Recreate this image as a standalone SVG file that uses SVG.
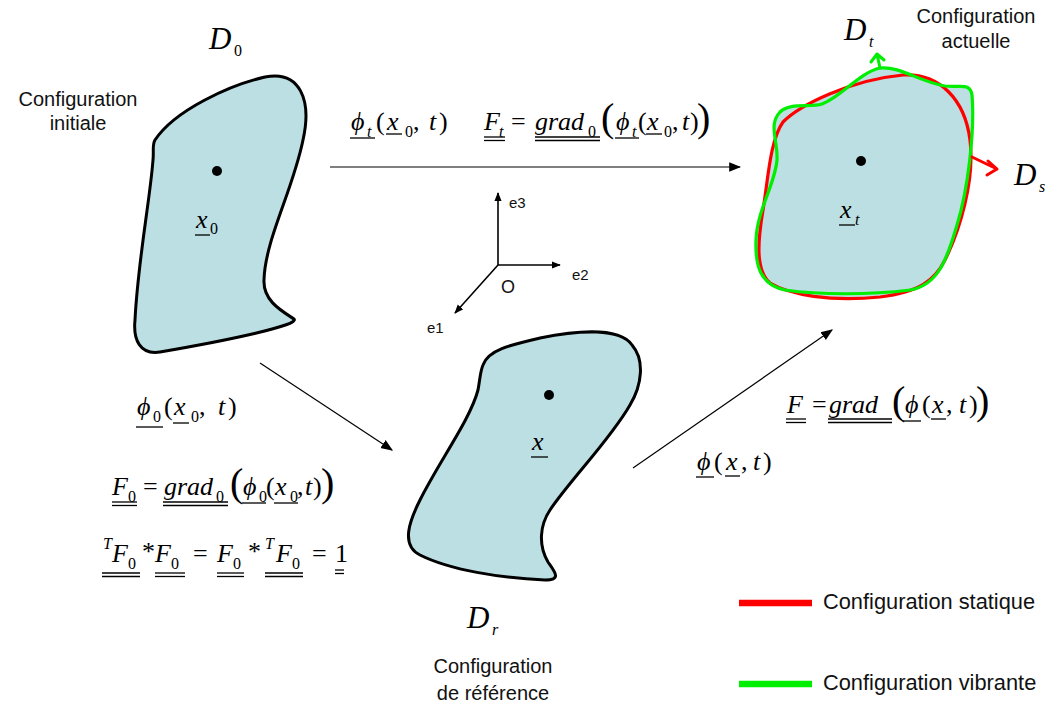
<svg xmlns="http://www.w3.org/2000/svg" width="1048" height="709" viewBox="0 0 1048 709">
<defs>
<style>
.m{font-family:"Liberation Serif","Times New Roman",serif;font-style:italic;font-size:26px;fill:#000}
.p{font-family:"Liberation Serif","DejaVu Serif",serif;font-style:italic;font-size:26px;fill:#000}
.u{font-style:normal}
.s{font-size:16px}
.big{font-family:"Liberation Serif",serif;font-style:normal;font-size:40px;fill:#000}
.D{font-family:"Liberation Serif",serif;font-style:italic;font-size:31px;fill:#000}
.lbl{font-family:"Liberation Sans",Arial,sans-serif;font-size:20px;fill:#111;text-anchor:middle}
.leg{font-family:"Liberation Sans",Arial,sans-serif;font-size:21.8px;fill:#111}
.ax{font-family:"Liberation Sans",Arial,sans-serif;font-size:15px;fill:#111}
.ul{stroke:#000;stroke-width:1.3;fill:none}
.body{fill:#bbdfe3;stroke:#000;stroke-width:3}
.con{stroke:#000;stroke-width:1.2;fill:none}
</style>
<marker id="ah" viewBox="0 0 10 10" refX="9" refY="5" markerWidth="9" markerHeight="9" markerUnits="userSpaceOnUse" orient="auto"><path d="M0,1 L10,5 L0,9 Z" fill="#000"/></marker>
<marker id="ah2" viewBox="0 0 10 10" refX="9" refY="5" markerWidth="12" markerHeight="12" markerUnits="userSpaceOnUse" orient="auto"><path d="M0,1 L10,5 L0,9 Z" fill="#000"/></marker>
</defs>
<rect width="1048" height="709" fill="#fff"/>

<g id="node-D0">
<path class="body" d="M155,140 C175,110 230,85 265,77 C300,70 312,100 303,140 C293,190 265,240 264,280 C263,300 280,310 294,319 C300,325 230,340 160,352 C140,355 133,340 135,320 C138,260 150,200 153,160 C154,150 152,145 155,140 Z"/>
<circle cx="217" cy="171" r="5" fill="#000"/>
<text class="m" x="196" y="228">x</text><text class="m u s" x="210" y="234">0</text>
<line class="ul" x1="195" y1="235" x2="210" y2="235"/>
<text class="D" x="209" y="49">D</text><text class="m u s" x="234" y="56">0</text>
<text class="lbl" x="78" y="106">Configuration</text>
<text class="lbl" x="78" y="130">initiale</text>
</g>

<g id="node-Dr">
<path class="body" d="M483,365 C488,350 510,345 540,338 C580,330 620,328 632,345 C645,360 642,385 630,405 C610,440 570,480 550,510 C540,525 538,545 548,562 C555,572 562,580 545,580 C500,578 450,570 420,555 C400,545 410,520 420,500 C440,460 470,420 478,390 C480,380 480,372 483,365 Z"/>
<circle cx="549" cy="395" r="5" fill="#000"/>
<text class="m" x="532" y="450">x</text>
<line class="ul" x1="531" y1="457" x2="548" y2="457"/>
<text class="D" x="467" y="628">D</text><text class="m s" x="492" y="635">r</text>
<text class="lbl" x="493" y="673">Configuration</text>
<text class="lbl" x="493" y="700">de référence</text>
</g>

<g id="node-Dt">
<path d="M880,68 C900,66 920,82 945,86 C960,88 970,82 972,95 C975,130 968,190 957,225 C948,255 940,285 910,290 C870,295 820,295 785,290 C760,285 755,265 756,240 C757,210 775,185 777,160 C778,140 768,125 780,112 C790,102 810,108 822,104 C840,98 860,72 880,68 Z" fill="#bbdfe3"/>
<path d="M903,75 C940,73 965,100 970,140 C975,180 960,230 945,260 C935,280 920,292 880,297 C830,302 790,295 770,283 C755,270 758,240 763,210 C768,180 770,140 783,122 C800,105 850,80 903,75 Z" fill="#bbdfe3" stroke="#ff0000" stroke-width="3.2"/>
<path d="M880,68 C900,66 920,82 945,86 C960,88 970,82 972,95 C975,130 968,190 957,225 C948,255 940,285 910,290 C870,295 820,295 785,290 C760,285 755,265 756,240 C757,210 775,185 777,160 C778,140 768,125 780,112 C790,102 810,108 822,104 C840,98 860,72 880,68 Z" fill="none" stroke="#00ee00" stroke-width="3.2"/>
<path d="M972,157 L997,169 M988,161 L997,169 L987,175" fill="none" stroke="#ff0000" stroke-width="3" stroke-linecap="round" stroke-linejoin="round"/>
<path d="M880,68 L877,54 M871,62 L877,54 L884,60" fill="none" stroke="#00ee00" stroke-width="3" stroke-linecap="round" stroke-linejoin="round"/>
<circle cx="861" cy="161" r="5" fill="#000"/>
<text class="m" x="840" y="218">x</text><text class="m s" x="855" y="225">t</text>
<line class="ul" x1="839" y1="225" x2="855" y2="225"/>
<text class="D" x="844" y="40">D</text><text class="m s" x="869" y="47">t</text>
<text class="D" x="1014" y="185">D</text><text class="m s" x="1039" y="192">s</text>
<text class="lbl" x="976" y="23">Configuration</text>
<text class="lbl" x="976" y="48">actuelle</text>
</g>

<g id="axes">
<line x1="498" y1="265" x2="498" y2="193" stroke="#000" stroke-width="1.6" marker-end="url(#ah)"/>
<line x1="498" y1="265" x2="560" y2="265" stroke="#000" stroke-width="1.6" marker-end="url(#ah)"/>
<line x1="498" y1="265" x2="455" y2="313" stroke="#000" stroke-width="1.6" marker-end="url(#ah)"/>
<text class="ax" x="509" y="208">e3</text>
<text class="ax" x="572" y="280">e2</text>
<text class="ax" x="427" y="333">e1</text>
<text class="ax" x="501" y="293" style="font-size:18px">O</text>
</g>

<g id="connectors">
<line class="con" x1="330" y1="167" x2="740" y2="167" marker-end="url(#ah2)"/>
<line class="con" x1="260" y1="363" x2="392" y2="450" marker-end="url(#ah2)"/>
<line class="con" x1="633" y1="468" x2="832" y2="330" marker-end="url(#ah2)"/>
</g>

<g id="formula-top">
<text class="p" x="351" y="130">ϕ</text><text class="m s" x="367" y="137">t</text>
<text class="m u" x="376" y="130">(</text><text class="m" x="387" y="130">x</text><text class="m u s" x="405" y="137">0</text>
<text class="m u" x="413" y="130">,</text><text class="m" x="429" y="130">t</text><text class="m u" x="439" y="130">)</text>
<line class="ul" x1="350" y1="138" x2="375" y2="138"/>
<line class="ul" x1="386" y1="134" x2="402" y2="134"/>

<text class="m" x="484" y="130">F</text><text class="m s" x="499" y="137">t</text>
<line class="ul" x1="484" y1="137" x2="505" y2="137"/><line class="ul" x1="484" y1="140.5" x2="505" y2="140.5"/>
<text class="m u" x="511" y="130">=</text>
<text class="m" x="535" y="130">grad</text><text class="m u s" x="588" y="137">0</text>
<line class="ul" x1="535" y1="137" x2="600" y2="137"/><line class="ul" x1="535" y1="140.5" x2="600" y2="140.5"/>
<text class="big" x="601" y="131">(</text>
<text class="p" x="616" y="130">ϕ</text><text class="m s" x="632" y="137">t</text>
<line class="ul" x1="615" y1="138" x2="639" y2="138"/>
<text class="m u" x="638" y="130">(</text><text class="m" x="647" y="130">x</text><text class="m u s" x="664" y="137">0</text>
<line class="ul" x1="646" y1="134" x2="662" y2="134"/>
<text class="m u" x="672" y="130">,</text><text class="m" x="682" y="130">t</text><text class="m u" x="690" y="130">)</text>
<text class="big" x="697" y="131">)</text>
</g>

<g id="formula-left">
<text class="p" x="137" y="415">ϕ</text><text class="m u s" x="153" y="422">0</text>
<line class="ul" x1="136" y1="427" x2="163" y2="427"/>
<text class="m u" x="164" y="415">(</text><text class="m" x="174" y="415">x</text><text class="m u s" x="191" y="422">0</text>
<line class="ul" x1="173" y1="423" x2="189" y2="423"/>
<text class="m u" x="199" y="415">,</text><text class="m" x="218" y="415">t</text><text class="m u" x="228" y="415">)</text>

<text class="m" x="112" y="495">F</text><text class="m u s" x="128" y="502">0</text>
<line class="ul" x1="112" y1="502" x2="137" y2="502"/><line class="ul" x1="112" y1="505.5" x2="137" y2="505.5"/>
<text class="m u" x="143" y="495">=</text>
<text class="m" x="164" y="495">grad</text><text class="m u s" x="216" y="502">0</text>
<line class="ul" x1="163" y1="502" x2="228" y2="502"/><line class="ul" x1="163" y1="505.5" x2="228" y2="505.5"/>
<text class="big" x="230" y="496">(</text>
<text class="p" x="243" y="495">ϕ</text><text class="m u s" x="259" y="502">0</text>
<line class="ul" x1="242" y1="503" x2="266" y2="503"/>
<text class="m u" x="266" y="495">(</text><text class="m" x="275" y="495">x</text><text class="m u s" x="290" y="502">0</text>
<line class="ul" x1="274" y1="503" x2="298" y2="503"/>
<text class="m u" x="297" y="495">,</text><text class="m" x="305" y="495">t</text><text class="m u" x="313" y="495">)</text>
<text class="big" x="321" y="496">)</text>

<text class="m s" x="103" y="549">T</text><text class="m" x="112" y="562">F</text><text class="m u s" x="128" y="569">0</text>
<line class="ul" x1="102" y1="573" x2="140" y2="573"/><line class="ul" x1="102" y1="576.5" x2="140" y2="576.5"/>
<text class="m u" x="142" y="560">*</text>
<text class="m" x="155" y="562">F</text><text class="m u s" x="171" y="569">0</text>
<line class="ul" x1="155" y1="573" x2="185" y2="573"/><line class="ul" x1="155" y1="576.5" x2="185" y2="576.5"/>
<text class="m u" x="193" y="562">=</text>
<text class="m" x="217" y="562">F</text><text class="m u s" x="233" y="569">0</text>
<line class="ul" x1="217" y1="573" x2="244" y2="573"/><line class="ul" x1="217" y1="576.5" x2="244" y2="576.5"/>
<text class="m u" x="248" y="560">*</text>
<text class="m s" x="265" y="549">T</text><text class="m" x="276" y="562">F</text><text class="m u s" x="292" y="569">0</text>
<line class="ul" x1="265" y1="573" x2="303" y2="573"/><line class="ul" x1="265" y1="576.5" x2="303" y2="576.5"/>
<text class="m u" x="312" y="562">=</text>
<text class="m u" x="335" y="562">1</text>
<line class="ul" x1="335" y1="570" x2="344" y2="570"/><line class="ul" x1="335" y1="573.5" x2="344" y2="573.5"/>
</g>

<g id="formula-right">
<text class="m" x="787" y="413">F</text>
<line class="ul" x1="786" y1="419" x2="806" y2="419"/><line class="ul" x1="786" y1="422.5" x2="806" y2="422.5"/>
<text class="m u" x="812" y="413">=</text>
<text class="m" x="829" y="413">grad</text>
<line class="ul" x1="828" y1="419" x2="892" y2="419"/><line class="ul" x1="828" y1="422.5" x2="892" y2="422.5"/>
<text class="big" x="892" y="414">(</text>
<text class="p" x="905" y="413">ϕ</text>
<line class="ul" x1="903" y1="421" x2="921" y2="421"/>
<text class="m u" x="922" y="413">(</text><text class="m" x="932" y="413">x</text>
<line class="ul" x1="931" y1="419" x2="946" y2="419"/>
<text class="m u" x="946" y="413">,</text><text class="m" x="959" y="413">t</text><text class="m u" x="969" y="413">)</text>
<text class="big" x="976" y="414">)</text>

<text class="p" x="697" y="470">ϕ</text>
<line class="ul" x1="696" y1="477" x2="714" y2="477"/>
<text class="m u" x="714" y="470">(</text><text class="m" x="726" y="470">x</text>
<line class="ul" x1="725" y1="476" x2="740" y2="476"/>
<text class="m u" x="741" y="470">,</text><text class="m" x="753" y="470">t</text><text class="m u" x="763" y="470">)</text>
</g>

<g id="legend">
<line x1="739" y1="603" x2="812" y2="603" stroke="#ff0000" stroke-width="6.5"/>
<text class="leg" x="823" y="609">Configuration statique</text>
<line x1="739" y1="684" x2="812" y2="684" stroke="#00ee00" stroke-width="6.5"/>
<text class="leg" x="823" y="690">Configuration vibrante</text>
</g>
</svg>
